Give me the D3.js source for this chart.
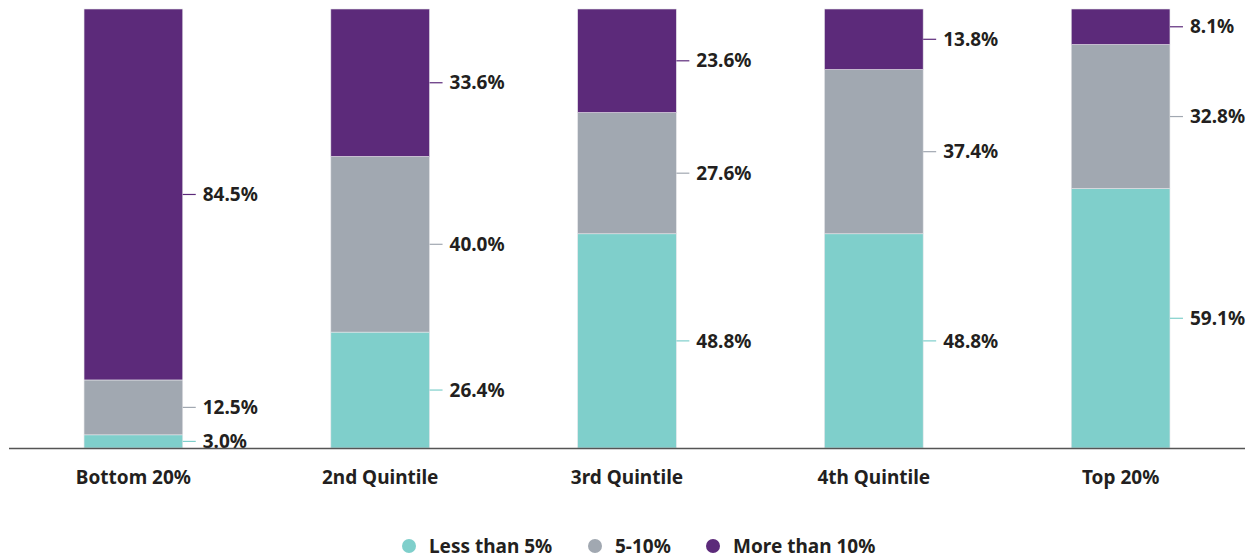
<!DOCTYPE html>
<html><head><meta charset="utf-8">
<script src="https://cdn.jsdelivr.net/npm/d3@7"></script>
<style>body{margin:0;background:#fff}svg{display:block}text{font-family:"Noto Sans",sans-serif;font-weight:700;fill:#231f20}</style>
</head><body><svg id="c" width="1255" height="558"></svg>
<script>
const categories = ["Bottom 20%","2nd Quintile","3rd Quintile","4th Quintile","Top 20%"];
const seriesNames = ["Less than 5%","5-10%","More than 10%"];
const lessThan5 = [3.0,26.4,48.8,48.8,59.1];
const between5and10 = [12.5,40.0,27.6,37.4,32.8];
const moreThan10 = [84.5,33.6,23.6,13.8,8.1];
const colors = ["#7fcfcb","#a1a8b1","#5c2a7a"];
const FS = 19;

const svg = d3.select("#c");
const x = d3.scaleBand().domain(categories).range([9,1245]).paddingInner(0.6).paddingOuter(0.304);
const y = d3.scaleLinear().domain([0,100]).range([448,9]);

const rows = categories.map((c,i)=>({cat:c,s0:lessThan5[i],s1:between5and10[i],s2:moreThan10[i]}));
const stack = d3.stack().keys(["s0","s1","s2"])(rows);

stack.forEach((layer,k)=>{
  const g = svg.append("g");
  g.selectAll("rect").data(layer).join("rect")
    .attr("x",d=>x(d.data.cat)).attr("width",x.bandwidth())
    .attr("y",d=>y(d[1])).attr("height",d=>y(d[0])-y(d[1]))
    .attr("fill",colors[k]).attr("stroke","#e6e6ea").attr("stroke-width",0.6);
  g.selectAll("line").data(layer).join("line")
    .attr("x1",d=>x(d.data.cat)+x.bandwidth()).attr("x2",d=>x(d.data.cat)+x.bandwidth()+13)
    .attr("y1",d=>y((d[0]+d[1])/2)).attr("y2",d=>y((d[0]+d[1])/2))
    .attr("stroke",colors[k]).attr("stroke-width",1.2);
  g.selectAll("text").data(layer).join("text")
    .attr("x",d=>x(d.data.cat)+x.bandwidth()+20).attr("y",d=>y((d[0]+d[1])/2))
    .attr("dy","0.35em").attr("font-size",FS)
    .text(d=>(d[1]-d[0]).toFixed(1)+"%");
});

svg.append("line").attr("x1",9).attr("x2",1245).attr("y1",448.5).attr("y2",448.5)
  .attr("stroke","#555").attr("stroke-width",1.6);

const xAxis = svg.append("g").attr("transform","translate(0,448)")
  .call(d3.axisBottom(x).tickSize(0).tickPadding(23));
xAxis.select(".domain").remove();
xAxis.selectAll("text").attr("font-size",FS).attr("font-family",null).style("font-family","'Noto Sans',sans-serif").attr("fill","#231f20");

const legendX = [409,595,713];
const lg = svg.append("g");
seriesNames.forEach((n,i)=>{
  lg.append("circle").attr("cx",legendX[i]).attr("cy",546).attr("r",7).attr("fill",colors[i]);
  lg.append("text").attr("x",legendX[i]+20).attr("y",546).attr("dy","0.35em").attr("font-size",FS).text(n);
});
</script></body></html>
